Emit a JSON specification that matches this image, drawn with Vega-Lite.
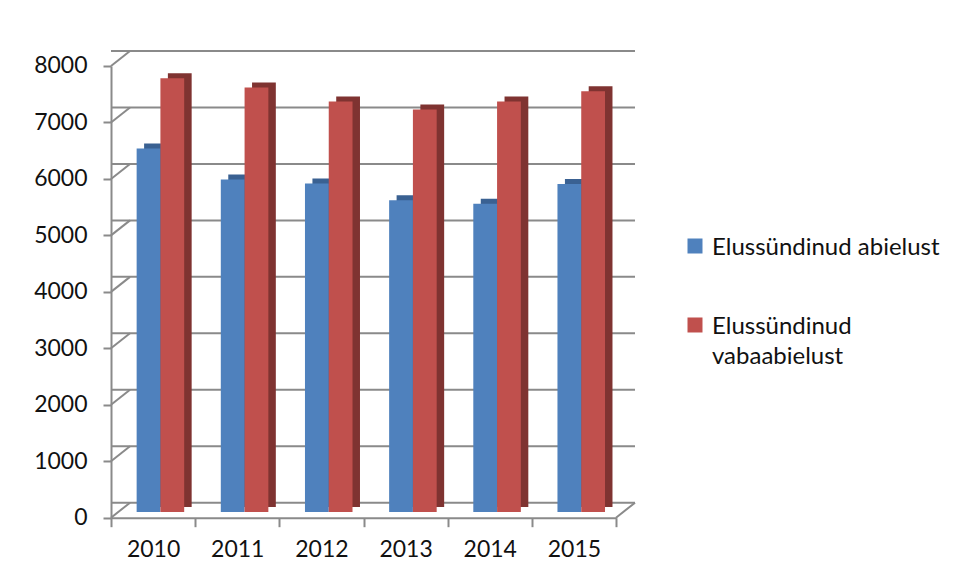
{
  "$schema": "https://vega.github.io/schema/vega-lite/v6.json",
  "width": 505,
  "height": 451.7,
  "autosize": {"type": "none"},
  "padding": {"left": 111, "top": 66, "right": 346, "bottom": 66},
  "background": "white",
  "config": {"view": {"stroke": null}, "font": "Lato"},
  "datasets": {
    "births": [
      {"year": "2010", "series": "Elussündinud abielust", "value": 6440},
      {"year": "2010", "series": "Elussündinud vabaabielust", "value": 7680},
      {"year": "2011", "series": "Elussündinud abielust", "value": 5890},
      {"year": "2011", "series": "Elussündinud vabaabielust", "value": 7520},
      {"year": "2012", "series": "Elussündinud abielust", "value": 5820},
      {"year": "2012", "series": "Elussündinud vabaabielust", "value": 7270},
      {"year": "2013", "series": "Elussündinud abielust", "value": 5520},
      {"year": "2013", "series": "Elussündinud vabaabielust", "value": 7130},
      {"year": "2014", "series": "Elussündinud abielust", "value": 5460},
      {"year": "2014", "series": "Elussündinud vabaabielust", "value": 7270},
      {"year": "2015", "series": "Elussündinud abielust", "value": 5810},
      {"year": "2015", "series": "Elussündinud vabaabielust", "value": 7450}
    ],
    "ticks": [
      {"v": 0}, {"v": 1000}, {"v": 2000}, {"v": 3000}, {"v": 4000},
      {"v": 5000}, {"v": 6000}, {"v": 7000}, {"v": 8000}
    ],
    "corner": [{"v": 0}]
  },
  "layer": [
    {
      "data": {"name": "ticks"},
      "mark": {"type": "rule", "color": "#8a8a8a", "strokeWidth": 2, "xOffset": 19, "x2Offset": 19, "yOffset": -15, "y2Offset": -15},
      "encoding": {
        "y": {
          "field": "v", "type": "quantitative", "scale": {"domain": [0, 8000]},
          "axis": {"title": null, "values": [0, 1000, 2000, 3000, 4000, 5000, 6000, 7000, 8000], "format": "d", "grid": false, "tickSize": 8, "labelPadding": 16, "labelFontSize": 23, "labelFont": "Lato", "labelColor": "#111111", "domainColor": "#8a8a8a", "domainWidth": 2, "tickColor": "#8a8a8a", "tickWidth": 2}
        }
      }
    },
    {
      "data": {"name": "ticks"},
      "mark": {"type": "rule", "color": "#8a8a8a", "strokeWidth": 2, "x2Offset": 19, "y2Offset": -15},
      "encoding": {
        "x": {
          "datum": "2010", "type": "nominal", "bandPosition": 0,
          "scale": {"paddingInner": 0, "paddingOuter": 0},
          "axis": {"title": null, "labelAngle": 0, "bandPosition": 0.5, "tickBand": "extent", "tickSize": 9, "labelPadding": 12, "labelFontSize": 23, "labelFont": "Lato", "labelColor": "#111111", "domainColor": "#8a8a8a", "domainWidth": 2, "tickColor": "#8a8a8a", "tickWidth": 2, "grid": false}
        },
        "x2": {"datum": "2010", "bandPosition": 0},
        "y": {"field": "v", "type": "quantitative"},
        "y2": {"field": "v"}
      }
    },
    {
      "data": {"name": "corner"},
      "mark": {"type": "rule", "color": "#8a8a8a", "strokeWidth": 2, "x2Offset": 19, "y2Offset": -15},
      "encoding": {
        "x": {"datum": "2015", "type": "nominal", "bandPosition": 1},
        "x2": {"datum": "2015", "bandPosition": 1},
        "y": {"field": "v", "type": "quantitative"},
        "y2": {"field": "v"}
      }
    },
    {
      "data": {"name": "births"},
      "mark": {"type": "bar", "yOffset": -10.7, "y2Offset": -10.7},
      "encoding": {
        "x": {"field": "year", "type": "nominal"},
        "xOffset": {"field": "series", "type": "nominal", "scale": {"paddingInner": 0, "paddingOuter": 0.77, "align": 0.904}},
        "y": {"field": "value", "type": "quantitative"},
        "color": {"field": "series", "type": "nominal", "scale": {"range": ["#3A6192", "#7F3331"]}, "legend": null}
      }
    },
    {
      "data": {"name": "births"},
      "mark": {"type": "bar", "yOffset": -5.7, "y2Offset": -5.7},
      "encoding": {
        "x": {"field": "year", "type": "nominal"},
        "xOffset": {"field": "series", "type": "nominal", "scale": {"paddingInner": 0, "paddingOuter": 0.77, "align": 0.70}},
        "y": {"field": "value", "type": "quantitative"},
        "color": {
          "field": "series", "type": "nominal",
          "scale": {"range": ["#4F81BD", "#C0504D"]},
          "legend": {
            "orient": "none", "legendX": 572, "legendY": 168, "title": null,
            "symbolType": "square", "symbolSize": 225, "symbolStrokeWidth": 0,
            "labelFontSize": 24, "labelFont": "Lato", "labelColor": "#111111", "labelLimit": 400, "labelOffset": 5,
            "rowPadding": 53, "labelBaseline": "top",
            "labelExpr": "datum.label == 'Elussündinud vabaabielust' ? ['Elussündinud', 'vabaabielust'] : datum.label",
            "encode": {"labels": {"update": {"dy": {"value": -10}, "lineHeight": {"value": 30}}}}
          }
        }
      }
    }
  ],
  "resolve": {"scale": {"color": "independent", "xOffset": "independent"}}
}
